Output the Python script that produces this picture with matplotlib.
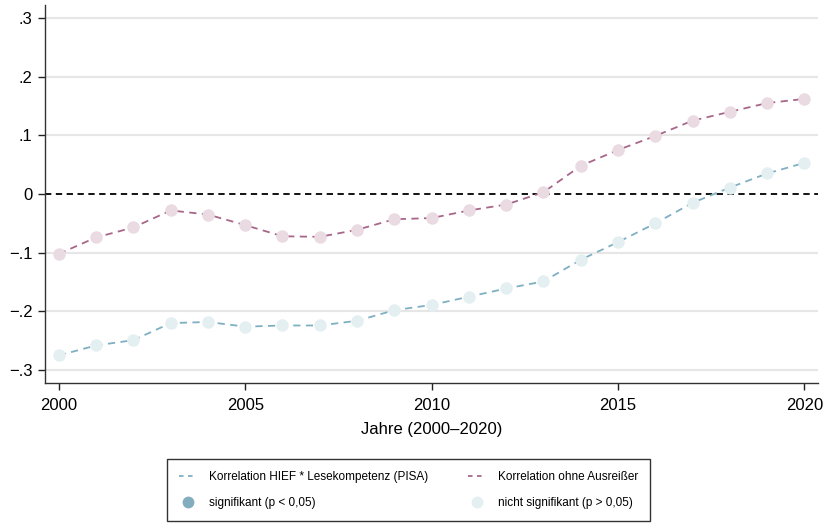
import matplotlib
matplotlib.use('Agg')
import matplotlib.pyplot as plt
from matplotlib.lines import Line2D

plt.rcParams['font.family'] = ['Liberation Sans', 'DejaVu Sans']

years = list(range(2000, 2021))

# Korrelation HIEF * Lesekompetenz (PISA)
corr_all = [-0.275, -0.258, -0.249, -0.220, -0.218, -0.226, -0.224, -0.224,
            -0.216, -0.198, -0.189, -0.175, -0.161, -0.149, -0.112, -0.082,
            -0.050, -0.015, 0.011, 0.035, 0.053]
# Korrelation ohne Ausreißer
corr_no_out = [-0.102, -0.074, -0.057, -0.028, -0.035, -0.053, -0.072, -0.073,
               -0.061, -0.043, -0.041, -0.028, -0.018, 0.003, 0.048, 0.075,
               0.099, 0.125, 0.140, 0.155, 0.162]

yticks = [-0.3, -0.2, -0.1, 0, 0.1, 0.2, 0.3]
ytick_labels = ['\u2212.3', '\u2212.2', '\u2212.1', '0', '.1', '.2', '.3']
xticks = [2000, 2005, 2010, 2015, 2020]

blue_line = '#7fb0c2'
blue_sig = '#82adbf'
blue_ns = '#e4eff2'
pink_line = '#a8668a'
pink_ns = '#eadae2'

fig = plt.figure(figsize=(8.29, 5.23), dpi=100)
ax = fig.add_axes([0.0543, 0.2677, 0.9327, 0.7227])

# grid lines, zero line dashed black
for y in yticks:
    if y != 0:
        ax.axhline(y, color='#e6e6e6', lw=1.5, zorder=0)
ax.axhline(0, color='black', lw=1.3, ls=(0, (3.5, 2.5)), zorder=1)

ax.plot(years, corr_all, color=blue_line, lw=1.3, ls=(0, (4, 3)), zorder=2)
ax.plot(years, corr_all, 'o', color=blue_ns, ms=9, mec='none', zorder=3)
ax.plot(years, corr_no_out, color=pink_line, lw=1.3, ls=(0, (4, 3)), zorder=2)
ax.plot(years, corr_no_out, 'o', color=pink_ns, ms=9, mec='none', zorder=3)

ax.set_xlim(1999.63, 2020.37)
ax.set_ylim(-0.322, 0.322)
ax.set_xticks(xticks)
ax.set_yticks(yticks)
ax.set_yticklabels(ytick_labels)
ax.tick_params(axis='both', labelsize=12, length=5, width=1, color='#222222')
ax.tick_params(axis='x', pad=6)
ax.tick_params(axis='y', pad=4)
ax.set_xlabel('Jahre (2000\u20132020)', fontsize=12, labelpad=6)

for side in ['top', 'right']:
    ax.spines[side].set_visible(False)
for side in ['left', 'bottom']:
    ax.spines[side].set_color('#333333')
    ax.spines[side].set_linewidth(1)

handles = [
    Line2D([], [], color=blue_line, lw=1.3, ls=(0, (2.5, 2.5))),
    Line2D([], [], marker='o', ls='none', color=blue_sig, ms=8.5, mec='none'),
    Line2D([], [], color=pink_line, lw=1.3, ls=(0, (2.5, 2.5))),
    Line2D([], [], marker='o', ls='none', color=blue_ns, ms=8.5, mec='none'),
]
labels = ['Korrelation HIEF * Lesekompetenz (PISA)', 'signifikant (p < 0,05)',
          'Korrelation ohne Ausreißer', 'nicht signifikant (p > 0,05)']
leg = fig.legend(handles, labels, ncol=2, loc='center',
                 bbox_to_anchor=(0.4928, 0.0631), fontsize=8.5,
                 frameon=True, fancybox=False, edgecolor='black',
                 handlelength=1.5, handletextpad=1.0, columnspacing=3.4,
                 labelspacing=1.2, borderpad=1.05)
leg.get_frame().set_linewidth(1)

fig.savefig('out.png', dpi=100)
